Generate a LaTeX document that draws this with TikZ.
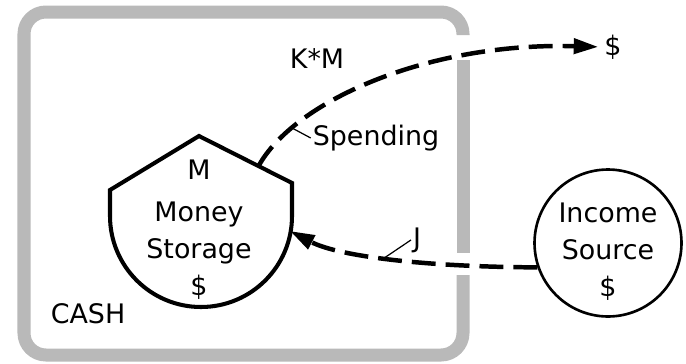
\documentclass[tikz,border=0pt]{standalone}
\usepackage{fontspec}
\setmainfont{DejaVu Sans}
\usetikzlibrary{arrows.meta, calc}
\tikzset{
    my-frame/.style={
        draw=gray!55, line width=7.4pt, rounded corners=12.5pt
    },
    my-tank/.style={
        draw, line width=2.3pt, line join=miter
    },
    my-source/.style={
        draw, shape=circle, line width=1.5pt, minimum size=2.94cm, inner sep=0pt
    },
    my-label/.style={
        inner sep=1pt, font=\fontsize{15.3pt}{21pt}\selectfont
    },
    my-flow/.style={
        line width=2.55pt, dash pattern=on 13.6pt off 5.7pt,
        -{Triangle[length=14pt, width=8.5pt]}
    },
    my-tick/.style={
        line width=0.7pt
    },
}

\begin{document}
\begin{tikzpicture}[x=0.02cm, y=0.02cm]

        \useasboundingbox (0, 0) rectangle (686, 363);

        % CASH FRAME
        \draw[my-frame] (463, 88) -- (463, 8) -- (24, 8) -- (24, 351) -- (463, 351) -- (463, 328);
        \draw[my-frame] (463, 303) -- (463, 110);
        \node[my-label] (Cash) at (88, 49) {CASH};

        % MONEY STORAGE TANK
        \coordinate (TankC)   at (201, 147);
        \coordinate (TankTop) at (199, 227);
        \coordinate (TankL)   at (110, 173);
        \coordinate (TankR)   at (292, 180);
        \draw[my-tank] (TankL) -- (TankTop) -- (TankR) -- ($(TankC) + (91, 0)$)
            arc[start angle=0, end angle=-180, radius=91] -- cycle;
        \node[my-label]               (M)       at ($(TankC) + (-2, 46)$)  {M};
        \node[my-label, align=center] (Storage) at ($(TankC) + (-2, -35)$) {Money\\Storage\\\$};

        % INCOME SOURCE
        \node[my-source]              (Income)     at (608, 120)               {};
        \node[my-label, align=center] (IncomeText) at ($(Income) + (0, -9)$)   {Income\\Source\\\$};

        % SPENDING FLOW
        \coordinate[]   (Roof) at ($(TankTop)!0.64!(TankR)$);
        \node[my-label] (Sink) at (613, 316) {\$};
        \draw[my-flow, shorten >=2.3pt] (Roof) .. controls (295, 263) and (430, 321) .. (Sink.west)
            coordinate[pos=0.2] (SpendTick);
        \node[my-label] (Spending) at (376, 225) {Spending};
        \draw[my-tick] (SpendTick) -- (Spending.west);
        \node[my-label] (KM) at (317, 304) {K*M};

        % INCOME FLOW
        \coordinate[] (TankIn) at (290, 132);
        \draw[my-flow] (Income.199) .. controls (430, 96) and (340, 106) .. (TankIn)
            coordinate[pos=0.53] (JTick);
        \node[my-label] (J) at (417, 123) {J};
        \draw[my-tick] (JTick) -- (J.west);

    \end{tikzpicture}
\end{document}
